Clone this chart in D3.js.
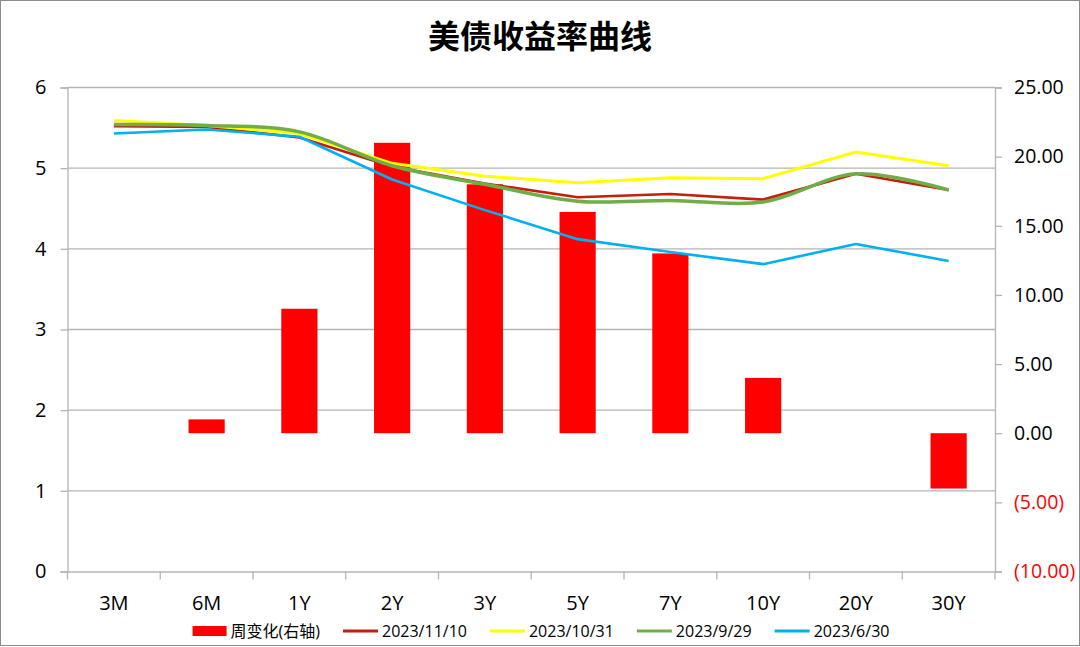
<!DOCTYPE html>
<html>
<head>
<meta charset="utf-8">
<script src="https://cdn.jsdelivr.net/npm/d3@7"></script>
<style>
  body { margin: 0; background: #fff; }
  text { font-family: "Open Sans", "Noto Sans CJK SC", sans-serif; }
</style>
</head>
<body>
<script>
// data
var tenors = ["3M", "6M", "1Y", "2Y", "3Y", "5Y", "7Y", "10Y", "20Y", "30Y"];
var weekChange = [0, 1, 9, 21, 18, 16, 13, 4, 0, -4];
var y20231110 = [5.52, 5.51, 5.38, 5.02, 4.81, 4.64, 4.68, 4.61, 4.93, 4.73];
var y20231031 = [5.59, 5.53, 5.43, 5.06, 4.90, 4.82, 4.88, 4.87, 5.20, 5.03];
var y20230929 = [5.54, 5.53, 5.45, 5.03, 4.80, 4.59, 4.60, 4.58, 4.93, 4.73];
var y20230630 = [5.43, 5.48, 5.39, 4.86, 4.48, 4.12, 3.96, 3.81, 4.06, 3.85];
var leftTicks = [0, 1, 2, 3, 4, 5, 6];
var rightTicks = [-10, -5, 0, 5, 10, 15, 20, 25];

var series = [
    {name: "2023/11/10", values: y20231110, color: "#C0200C", width: 2.6, smooth: false},
    {name: "2023/10/31", values: y20231031, color: "#FFFF00", width: 3, smooth: false},
    {name: "2023/9/29", values: y20230929, color: "#70AD47", width: 3.5, smooth: true},
    {name: "2023/6/30", values: y20230630, color: "#00B0F0", width: 2.6, smooth: false}
];

var W = 1080, H = 647;
var plotL = 67.5, plotR = 995, plotT = 87.5, plotB = 571.5;

var svg = d3.select("body").append("svg")
    .attr("width", W)
    .attr("height", H);

// outer frame
svg.append("rect")
    .attr("x", 0.5).attr("y", 0.5)
    .attr("width", W - 1).attr("height", H - 2)
    .style("fill", "#fff")
    .style("stroke", "#8c8c8c");

var x = d3.scaleBand().domain(tenors).range([plotL, plotR]).padding(0);
var yL = d3.scaleLinear().domain([0, 6]).range([plotB, plotT]);
var yR = d3.scaleLinear().domain([-10, 25]).range([plotB, plotT]);

// title
svg.append("text")
    .attr("x", 540).attr("y", 48)
    .attr("text-anchor", "middle")
    .style("font-family", "'Noto Sans CJK SC', sans-serif")
    .style("font-weight", "bold")
    .style("font-size", "32px")
    .text("美债收益率曲线");

// gridlines (left axis)
svg.append("g").selectAll("line")
    .data(leftTicks.filter(d => d > 0))
    .enter().append("line")
    .attr("x1", plotL).attr("x2", plotR)
    .attr("y1", d => yL(d)).attr("y2", d => yL(d))
    .style("stroke", "#b4b4b4")
    .style("stroke-width", 1.3);

// left axis
var gL = svg.append("g")
    .attr("transform", "translate(" + plotL + ",0)")
    .call(d3.axisLeft(yL).tickValues(leftTicks).tickSize(7).tickPadding(14).tickFormat(d3.format("d")));
gL.select(".domain").style("stroke", "#b4b4b4").style("stroke-width", 1.3);
gL.selectAll(".tick line").style("stroke", "#b4b4b4").style("stroke-width", 1.3);
gL.selectAll(".tick text")
    .style("font-size", "20px").style("font-family", "'Open Sans', sans-serif").style("fill", "#000");

// right axis
var fmtR = function(d) {
    return d < 0 ? "(" + d3.format(".2f")(-d) + ")" : d3.format(".2f")(d);
};
var gR = svg.append("g")
    .attr("transform", "translate(" + plotR + ",0)")
    .call(d3.axisRight(yR).tickValues(rightTicks).tickSize(7).tickPadding(12).tickFormat(fmtR));
gR.select(".domain").style("stroke", "#b4b4b4").style("stroke-width", 1.3);
gR.selectAll(".tick line").style("stroke", "#b4b4b4").style("stroke-width", 1.3);
gR.selectAll(".tick text")
    .style("font-size", "19.5px").style("font-family", "'Open Sans', sans-serif")
    .style("fill", d => d < 0 ? "#FF0000" : "#000");

// bottom axis
var gB = svg.append("g")
    .attr("transform", "translate(0," + plotB + ")")
    .call(d3.axisBottom(x).tickSize(0).tickPadding(24));
gB.select(".domain").style("stroke", "#b4b4b4").style("stroke-width", 1.3);
gB.selectAll(".tick text")
    .style("font-size", "20px").style("font-family", "'Open Sans', sans-serif").style("fill", "#000");
// category boundary ticks
gB.append("g").selectAll("line")
    .data(tenors.concat(["end"]))
    .enter().append("line")
    .attr("x1", (d, i) => i < tenors.length ? x(d) : x(tenors[tenors.length - 1]) + x.bandwidth())
    .attr("x2", (d, i) => i < tenors.length ? x(d) : x(tenors[tenors.length - 1]) + x.bandwidth())
    .attr("y1", 0).attr("y2", 8)
    .style("stroke", "#b4b4b4").style("stroke-width", 1.3);

// bars: weekly change (right axis)
var barW = x.bandwidth() * 0.39;
svg.append("g").selectAll("rect")
    .data(tenors.map((t, i) => ({t: t, v: weekChange[i]})).filter(d => d.v !== 0))
    .enter().append("rect")
    .attr("x", d => x(d.t) + x.bandwidth() / 2 - barW / 2)
    .attr("y", d => yR(Math.max(0, d.v)))
    .attr("width", barW)
    .attr("height", d => Math.abs(yR(d.v) - yR(0)))
    .style("fill", "#FF0000");

// lines
series.forEach(function(s) {
    var line = d3.line()
        .x((d, i) => x(tenors[i]) + x.bandwidth() / 2)
        .y(d => yL(d))
        .curve(s.smooth ? d3.curveCatmullRom.alpha(0.5) : d3.curveLinear);
    svg.append("path")
        .datum(s.values)
        .attr("d", line)
        .style("fill", "none")
        .style("stroke", s.color)
        .style("stroke-width", s.width)
        .style("stroke-linejoin", "round");
});

// legend
var legend = svg.append("g");
var lx = 0, ly = 631;
var items = [{name: "周变化(右轴)", color: "#FF0000", bar: true}].concat(series);
items.forEach(function(it, i) {
    if (i > 0) lx += 23;
    if (it.bar) {
        legend.append("rect")
            .attr("x", lx).attr("y", ly - 5)
            .attr("width", 34).attr("height", 10)
            .style("fill", it.color);
        lx += 38;
    } else {
        legend.append("line")
            .attr("x1", lx).attr("x2", lx + 35)
            .attr("y1", ly).attr("y2", ly)
            .style("stroke", it.color)
            .style("stroke-width", 3);
        lx += 39;
    }
    var t = legend.append("text")
        .attr("x", lx).attr("y", ly + 6)
        .style("font-size", "16px")
        .style("fill", "#000")
        .text(it.name);
    lx += t.node().getComputedTextLength();
});
legend.attr("transform", "translate(" + (541 - lx / 2) + ",0)");
</script>
</body>
</html>
